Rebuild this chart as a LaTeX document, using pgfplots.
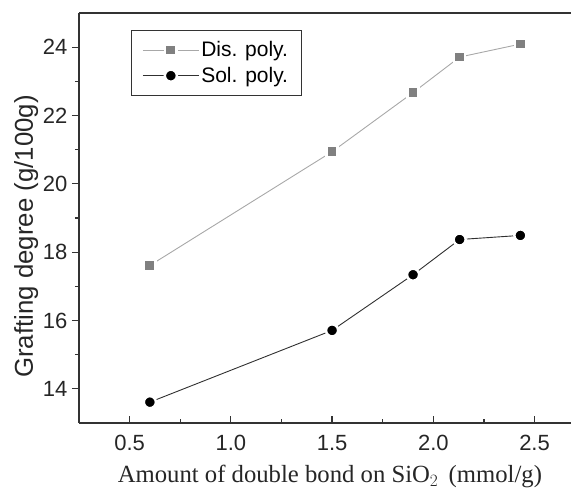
\documentclass[border=0pt]{standalone}
\usepackage{fontspec}
\setmainfont{Liberation Serif}
\setsansfont{Liberation Sans}
\usepackage{pgfplots}
\pgfplotsset{compat=1.18}
\definecolor{disline}{HTML}{A8A8A8}
\definecolor{dismark}{HTML}{808080}
\definecolor{solline}{HTML}{303030}
\begin{document}
\begin{tikzpicture}
\begin{axis}[
  scale only axis, width=492pt, height=410pt,
  xmin=0.25, xmax=2.68, ymin=13, ymax=25,
  axis x line=box, axis y line=left,
  axis line style={-, line width=1.5pt, color=black!80},
  xtick pos=bottom,
  xtick align=inside, ytick align=outside,
  major tick length=7pt, minor tick length=4pt,
  every tick/.style={line width=1.2pt, color=black!80},
  xtick={0.5,1.0,1.5,2.0,2.5},
  ytick={14,16,18,20,22,24},
  minor x tick num=1, minor y tick num=1,
  /pgf/number format/assume math mode=true,
  xticklabel={\pgfmathprintnumber[fixed,fixed zerofill,precision=1]{\tick}},
  ticklabel style={font=\sffamily\fontsize{22}{26}\selectfont, color=black!85},
  xticklabel style={yshift=-9pt},
  yticklabel style={xshift=-1pt},
  xlabel={Amount of double bond on SiO$_2$\, (mmol/g)},
  xlabel style={font=\fontsize{24.7}{28}\selectfont, color=black!85, at={(rel axis cs:0.51,0)}, anchor=base, yshift=-60pt},
  ylabel={Grafting degree (g/100g)},
  ylabel style={font=\sffamily\fontsize{25.8}{28}\selectfont, color=black!85, at={(rel axis cs:0,0.455)}, anchor=base, yshift=46pt},
  legend style={at={(rel axis cs:0.1057,0.958)}, anchor=north west, draw=black!80, line width=0.8pt,
    font=\sffamily\fontsize{21}{25}\selectfont, inner xsep=11pt, inner ysep=9pt, row sep=5pt, cells={anchor=west}},
  legend image code/.code={\draw[mark repeat=2, mark phase=2, #1] plot coordinates {(0pt,0pt)(28pt,0pt)(56pt,0pt)};},
  legend cell align=left,
]
\addplot[color=disline, line width=0.9pt, mark=square*,
  mark options={fill=dismark, draw=white, line width=2.4pt, mark size=5.6pt}] coordinates {
  (0.60,17.61) (1.50,20.94) (1.90,22.67) (2.13,23.71) (2.43,24.09)};
\addlegendentry{Dis. poly.}
\addplot[color=solline, line width=0.9pt, mark=*,
  mark options={fill=black, draw=white, line width=2.4pt, mark size=6.0pt}] coordinates {
  (0.60,13.61) (1.50,15.71) (1.90,17.34) (2.13,18.37) (2.43,18.49)};
\addlegendentry{Sol. poly.}
\coordinate (SW) at (rel axis cs:0,0);
\coordinate (NE) at (rel axis cs:1,1);
\end{axis}
\pgfresetboundingbox
\path[use as bounding box] ([xshift=-79pt,yshift=-68pt]SW) rectangle ([yshift=13pt]NE);
\end{tikzpicture}
\end{document}
